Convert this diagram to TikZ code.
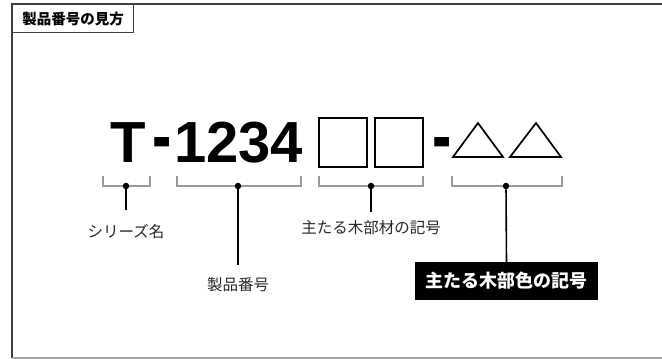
\documentclass[tikz,border=0pt]{standalone}
\usepackage{fontspec}
\newfontfamily\jp{Noto Sans CJK JP}
\newfontfamily\lat{Liberation Sans}
\begin{document}
\begin{tikzpicture}[x=1pt,y=-1pt,line cap=butt,line join=miter,
  big/.style={font=\lat\bfseries\fontsize{58}{58}\selectfont,anchor=base west,inner sep=0},
  lbl/.style={font=\jp\fontsize{15.5}{16}\selectfont,text=black!85},
  bracket/.style={draw=black!40,line width=1.1pt},
  dotn/.style={circle,fill=black,inner sep=0,minimum size=6.5pt},
  lead/.style={line width=1.6pt}]
  \useasboundingbox (0,0) rectangle (662,359);
  \draw[black!75,line width=1.4pt] (662,4)--(12,4)--(12,358);
  \draw[black!35,line width=1.2pt] (12,358)--(662,358);
  \node[draw=black!75,line width=1.2pt,anchor=north west,minimum width=121,minimum height=28,
    font=\jp\bfseries\fontsize{14.5}{14.5}\selectfont] (title) at (12,4) {製品番号の見方};
  % product code
  \node[big] (T) at (110,162) {T};
  \node[big] (dasha) at (152,162) {\scalebox{1}[1.35]{-}};
  \node[big] (num) at (174,162) {1234};
  \draw[line width=2pt] (319,118) rectangle (367,167);
  \draw[line width=2pt] (375,118) rectangle (423,167);
  \node[big] (dashb) at (432,162) {\scalebox{1}[1.35]{-}};
  \draw[line width=1.7pt] (453,157)--(478,123)--(503,157)--cycle;
  \draw[line width=1.7pt] (510,157)--(536,123)--(561,157)--cycle;
  % brackets
  \draw[bracket] (103,176)--(103,186)--(150,186)--(150,176);
  \draw[bracket] (177,176)--(177,186)--(301,186)--(301,176);
  \draw[bracket] (319,176)--(319,186)--(423,186)--(423,176);
  \draw[bracket] (452,176)--(452,186)--(562,186)--(562,176);
  \node[dotn] (dotser) at (126,186) {};
  \node[dotn] (dotnum) at (238,186) {};
  \node[dotn] (dotmat) at (371,186) {};
  \node[dotn] (dotcol) at (506,186) {};
  % labels
  \node[lbl] (lblser) at (126,232) {シリーズ名};
  \node[lbl] (lblnum) at (238,285) {製品番号};
  \node[lbl] (lblmat) at (371,228) {主たる木部材の記号};
  \node[fill=black,text=white,minimum width=183,minimum height=38,inner sep=0,
    font=\jp\bfseries\fontsize{18}{18}\selectfont] (lblcol) at (506.5,281) {主たる木部色の記号};
  \draw[lead,shorten >=11] (dotser) -- (lblser.north);
  \draw[lead,shorten >=9] (dotnum) -- (lblnum.north);
  \draw[lead,shorten >=5] (dotmat) -- (lblmat.north);
  \draw[lead] (dotcol) -- (lblcol.north);
\end{tikzpicture}
\end{document}
